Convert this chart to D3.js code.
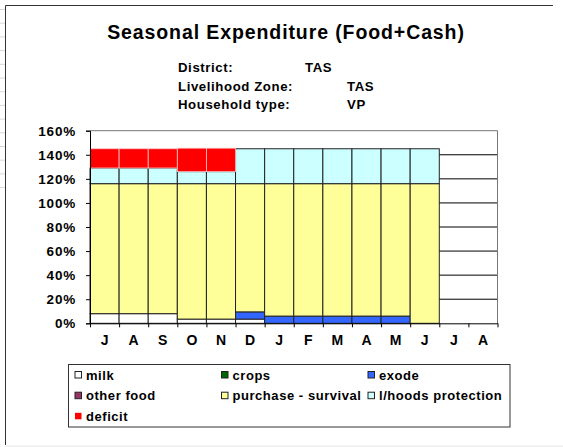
<!DOCTYPE html>
<html>
<head>
<meta charset="utf-8">
<script src="https://cdn.jsdelivr.net/npm/d3@7"></script>
<style>
  body { margin: 0; background: #fff; }
  text { font-family: Arial, "Liberation Sans", sans-serif; font-weight: bold; fill: #000; }
</style>
</head>
<body>
<div id="chart"></div>
<script>
// months of the consumption year (July -> August)
var months = ["J", "A", "S", "O", "N", "D", "J", "F", "M", "A", "M", "J", "J", "A"];

// series values, % of requirement
var milk       = [8, 8, 8, 3.5, 3.5, 3.5, 0, 0, 0, 0, 0, 0, 0, 0];
var crops      = [0, 0, 0, 0, 0, 0, 0, 0, 0, 0, 0, 0, 0, 0];
var exode      = [0, 0, 0, 0, 0, 6, 6, 6, 6, 6, 6, 0, 0, 0];
var otherFood  = [0, 0, 0, 0, 0, 0, 0, 0, 0, 0, 0, 0, 0, 0];
var purchase   = [108, 108, 108, 112.5, 112.5, 106.5, 110, 110, 110, 110, 110, 116, 0, 0];
var protection = [13, 13, 13, 10, 10, 29, 29, 29, 29, 29, 29, 29, 0, 0];
var deficit    = [16, 16, 16, 19.5, 19.5, 0, 0, 0, 0, 0, 0, 0, 0, 0];

var yTicks = [0, 20, 40, 60, 80, 100, 120, 140, 160];

var seriesNames = ["milk", "crops", "exode", "other food", "purchase - survival", "l/hoods protection", "deficit"];
var seriesColors = ["#ffffff", "#006600", "#3366ff", "#993366", "#ffff99", "#ccffff", "#ff0000"];
var seriesValues = [milk, crops, exode, otherFood, purchase, protection, deficit];

var svgWidth = 563;
var svgHeight = 447;
var margin = { top: 130.7, left: 90, right: 65.5, bottom: 123.7 };
var width = svgWidth - margin.left - margin.right;
var height = svgHeight - margin.top - margin.bottom;

var svg = d3.select("#chart").append("svg")
  .attr("width", svgWidth)
  .attr("height", svgHeight);

// outer frame of the sheet
svg.append("g").attr("stroke", "#d8d8d8")
  .selectAll("line").data(d3.range(14)).enter().append("line")
  .attr("x1", 0).attr("x2", 5)
  .attr("y1", d => 9.5 + d * 13.7).attr("y2", d => 9.5 + d * 13.7);
svg.append("path")
  .attr("d", "M5.5,445V5.5H553")
  .attr("fill", "none").attr("stroke", "#333");
svg.append("line")
  .attr("x1", 5).attr("x2", 563).attr("y1", 446).attr("y2", 446)
  .attr("stroke", "#e4e4e4");

// titles
svg.append("text")
  .attr("x", 286).attr("y", 39)
  .attr("text-anchor", "middle")
  .attr("font-size", 19.5)
  .attr("letter-spacing", 0.9)
  .text("Seasonal Expenditure (Food+Cash)");

var info = [["District:", "TAS", 305, 72], ["Livelihood Zone:", "TAS", 347, 90.5], ["Household type:", "VP", 347, 109]];
info.forEach(function(r) {
  svg.append("text").attr("x", 178).attr("y", r[3])
    .attr("font-size", 13.2).attr("letter-spacing", 0.6).text(r[0]);
  svg.append("text").attr("x", r[2]).attr("y", r[3])
    .attr("font-size", 13.2).attr("letter-spacing", 0.6).text(r[1]);
});

var chartGroup = svg.append("g")
  .attr("transform", `translate(${margin.left}, ${margin.top})`);

var x = d3.scaleBand()
  .domain(d3.range(months.length))
  .range([0, width])
  .padding(0);

var xLin = d3.scaleLinear()
  .domain([0, months.length])
  .range([0, width]);

var y = d3.scaleLinear()
  .domain([0, 160])
  .range([height, 0]);

// gridlines
chartGroup.append("g")
  .selectAll("line").data(yTicks.filter(d => d > 0 && d < 160)).enter().append("line")
  .attr("x1", 0).attr("x2", width)
  .attr("y1", d => y(d)).attr("y2", d => y(d))
  .attr("stroke", "#000").attr("stroke-width", 1);

// stack the series
var table = months.map(function(m, i) {
  var row = { i: i };
  seriesNames.forEach(function(s, k) { row[s] = seriesValues[k][i]; });
  return row;
});
var stacked = d3.stack().keys(seriesNames)(table);

chartGroup.selectAll("g.series")
  .data(stacked)
  .enter().append("g")
  .attr("class", "series")
  .attr("fill", (d, k) => seriesColors[k])
  .attr("stroke", (d, k) => seriesNames[k] == "deficit" ? "#ffc8c8" : "#222")
  .attr("stroke-width", (d, k) => seriesNames[k] == "deficit" ? 0.8 : 1)
  .selectAll("rect")
  .data(d => d.filter(p => p[1] - p[0] > 0))
  .enter().append("rect")
  .attr("x", p => x(p.data.i))
  .attr("width", x.bandwidth())
  .attr("y", p => y(p[1]))
  .attr("height", p => y(p[0]) - y(p[1]));

// plot border top/right
chartGroup.append("path")
  .attr("d", `M0,0H${width}V${height}`)
  .attr("fill", "none").attr("stroke", "#777").attr("stroke-width", 1);

// axes
var leftAxis = d3.axisLeft(y)
  .tickValues(yTicks)
  .tickFormat(d => d + "%")
  .tickSize(4)
  .tickPadding(10);

var yAxisG = chartGroup.append("g").call(leftAxis);
yAxisG.select(".domain").attr("stroke", "#000");
yAxisG.selectAll("line").attr("stroke", "#000");
yAxisG.selectAll("text")
  .attr("font-size", 13.5).attr("letter-spacing", 0.8)
  .attr("font-family", null).style("font-family", "Arial, 'Liberation Sans', sans-serif")
  .attr("fill", "#000");

var bottomAxis = d3.axisBottom(xLin)
  .tickValues(d3.range(months.length + 1))
  .tickFormat("")
  .tickSize(4)
  .tickSizeOuter(0);

var xAxisG = chartGroup.append("g")
  .attr("transform", `translate(0, ${height})`)
  .call(bottomAxis);
xAxisG.select(".domain").attr("stroke", "#000");
xAxisG.selectAll("line").attr("stroke", "#000");

chartGroup.append("g")
  .selectAll("text").data(months).enter().append("text")
  .attr("x", (d, i) => x(i) + x.bandwidth() / 2)
  .attr("y", height + 21.5)
  .attr("text-anchor", "middle")
  .attr("font-size", 14)
  .text(d => d);

// legend
var legend = svg.append("g");
legend.append("rect")
  .attr("x", 68.5).attr("y", 364.5)
  .attr("width", 441.5).attr("height", 62.5)
  .attr("fill", "#fff").attr("stroke", "#333");

var colX = [75, 221.5, 368];
var rowY = [375, 395.7, 416.3];
seriesNames.forEach(function(s, k) {
  var cx = colX[k % 3], cy = rowY[Math.floor(k / 3)];
  legend.append("rect")
    .attr("x", cx).attr("y", cy - 3.5)
    .attr("width", 6.5).attr("height", 6.5)
    .attr("fill", seriesColors[k])
    .attr("stroke", s == "deficit" ? "none" : "#222")
    .attr("stroke-width", 1);
  legend.append("text")
    .attr("x", cx + 11).attr("y", cy + 4.5)
    .attr("font-size", 13).attr("letter-spacing", 0.55)
    .text(s);
});
</script>
</body>
</html>
